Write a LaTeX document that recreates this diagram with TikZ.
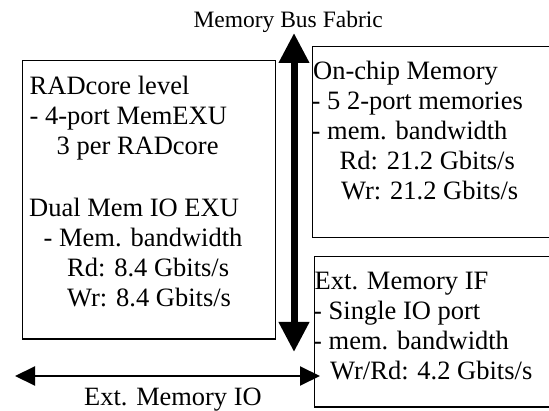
\documentclass[tikz,border=0pt]{standalone}
\usepackage{fontspec}
\setmainfont{Liberation Serif}
\usetikzlibrary{arrows.meta}
\begin{document}
\begin{tikzpicture}[x=1pt,y=-1pt,
  box/.style={draw, line width=1.3pt, rectangle, inner sep=0pt, anchor=north west},
  txt/.style={anchor=base west, inner sep=0pt, font=\fontsize{26.5}{30}\selectfont},
  lbl/.style={anchor=base west, inner sep=0pt},
  bigarrow/.style={line width=7pt, {Triangle[length=30pt,width=29pt]}-{Triangle[length=30pt,width=29pt]}},
  thinarrow/.style={line width=2pt, {Triangle[length=20pt,width=19pt]}-{Triangle[length=20pt,width=19pt]}}]
\useasboundingbox (0,0) rectangle (549,411);
% boxes
\node[box, minimum width=253.5pt, minimum height=278.5pt] (core) at (21.5,60) {};
\node[box, minimum width=245pt, minimum height=191pt] (onchip) at (311.5,46) {};
\node[box, minimum width=245pt, minimum height=150.5pt] (ext) at (313.5,256) {};
% left box text
\node[txt] (c1) at (29.5,95) {RADcore level};
\node[txt] (c2) at (29.5,125) {- 4-port MemEXU};
\node[txt] (c3) at (56.5,155) {3 per RADcore};
\node[txt] (c4) at (29,217) {Dual Mem IO EXU};
\node[txt] (c5) at (43.5,247) {- Mem. bandwidth};
\node[txt] (c6) at (67,277) {Rd: 8.4 Gbits/s};
\node[txt] (c7) at (67,307) {Wr: 8.4 Gbits/s};
% on-chip text
\node[txt] (o1) at (313,80) {On-chip Memory};
\node[txt] (o2) at (311.5,110) {- 5 2-port memories};
\node[txt] (o3) at (311.5,140) {- mem. bandwidth};
\node[txt] (o4) at (339.5,170) {Rd: 21.2 Gbits/s};
\node[txt] (o5) at (341,200) {Wr: 21.2 Gbits/s};
% ext text
\node[txt] (e1) at (314.5,290) {Ext. Memory IF};
\node[txt] (e2) at (313,320) {- Single IO port};
\node[txt] (e3) at (313,350) {- mem. bandwidth};
\node[txt] (e4) at (330,380) {Wr/Rd: 4.2 Gbits/s};
% arrows
\coordinate (busTop) at (294,33);
\coordinate (busBot) at (294,352);
\draw[bigarrow] (busTop) -- (busBot);
\coordinate (ioL) at (15,376);
\coordinate (ioR) at (320,376);
\draw[thinarrow] (ioL) -- (ioR);
% labels
\node[lbl, font=\fontsize{23.5}{28}\selectfont] (busLbl) at (193.3,27.7) {Memory Bus Fabric};
\node[lbl, font=\fontsize{26.4}{30}\selectfont] (ioLbl) at (84,406) {Ext. Memory IO};
\end{tikzpicture}
\end{document}
